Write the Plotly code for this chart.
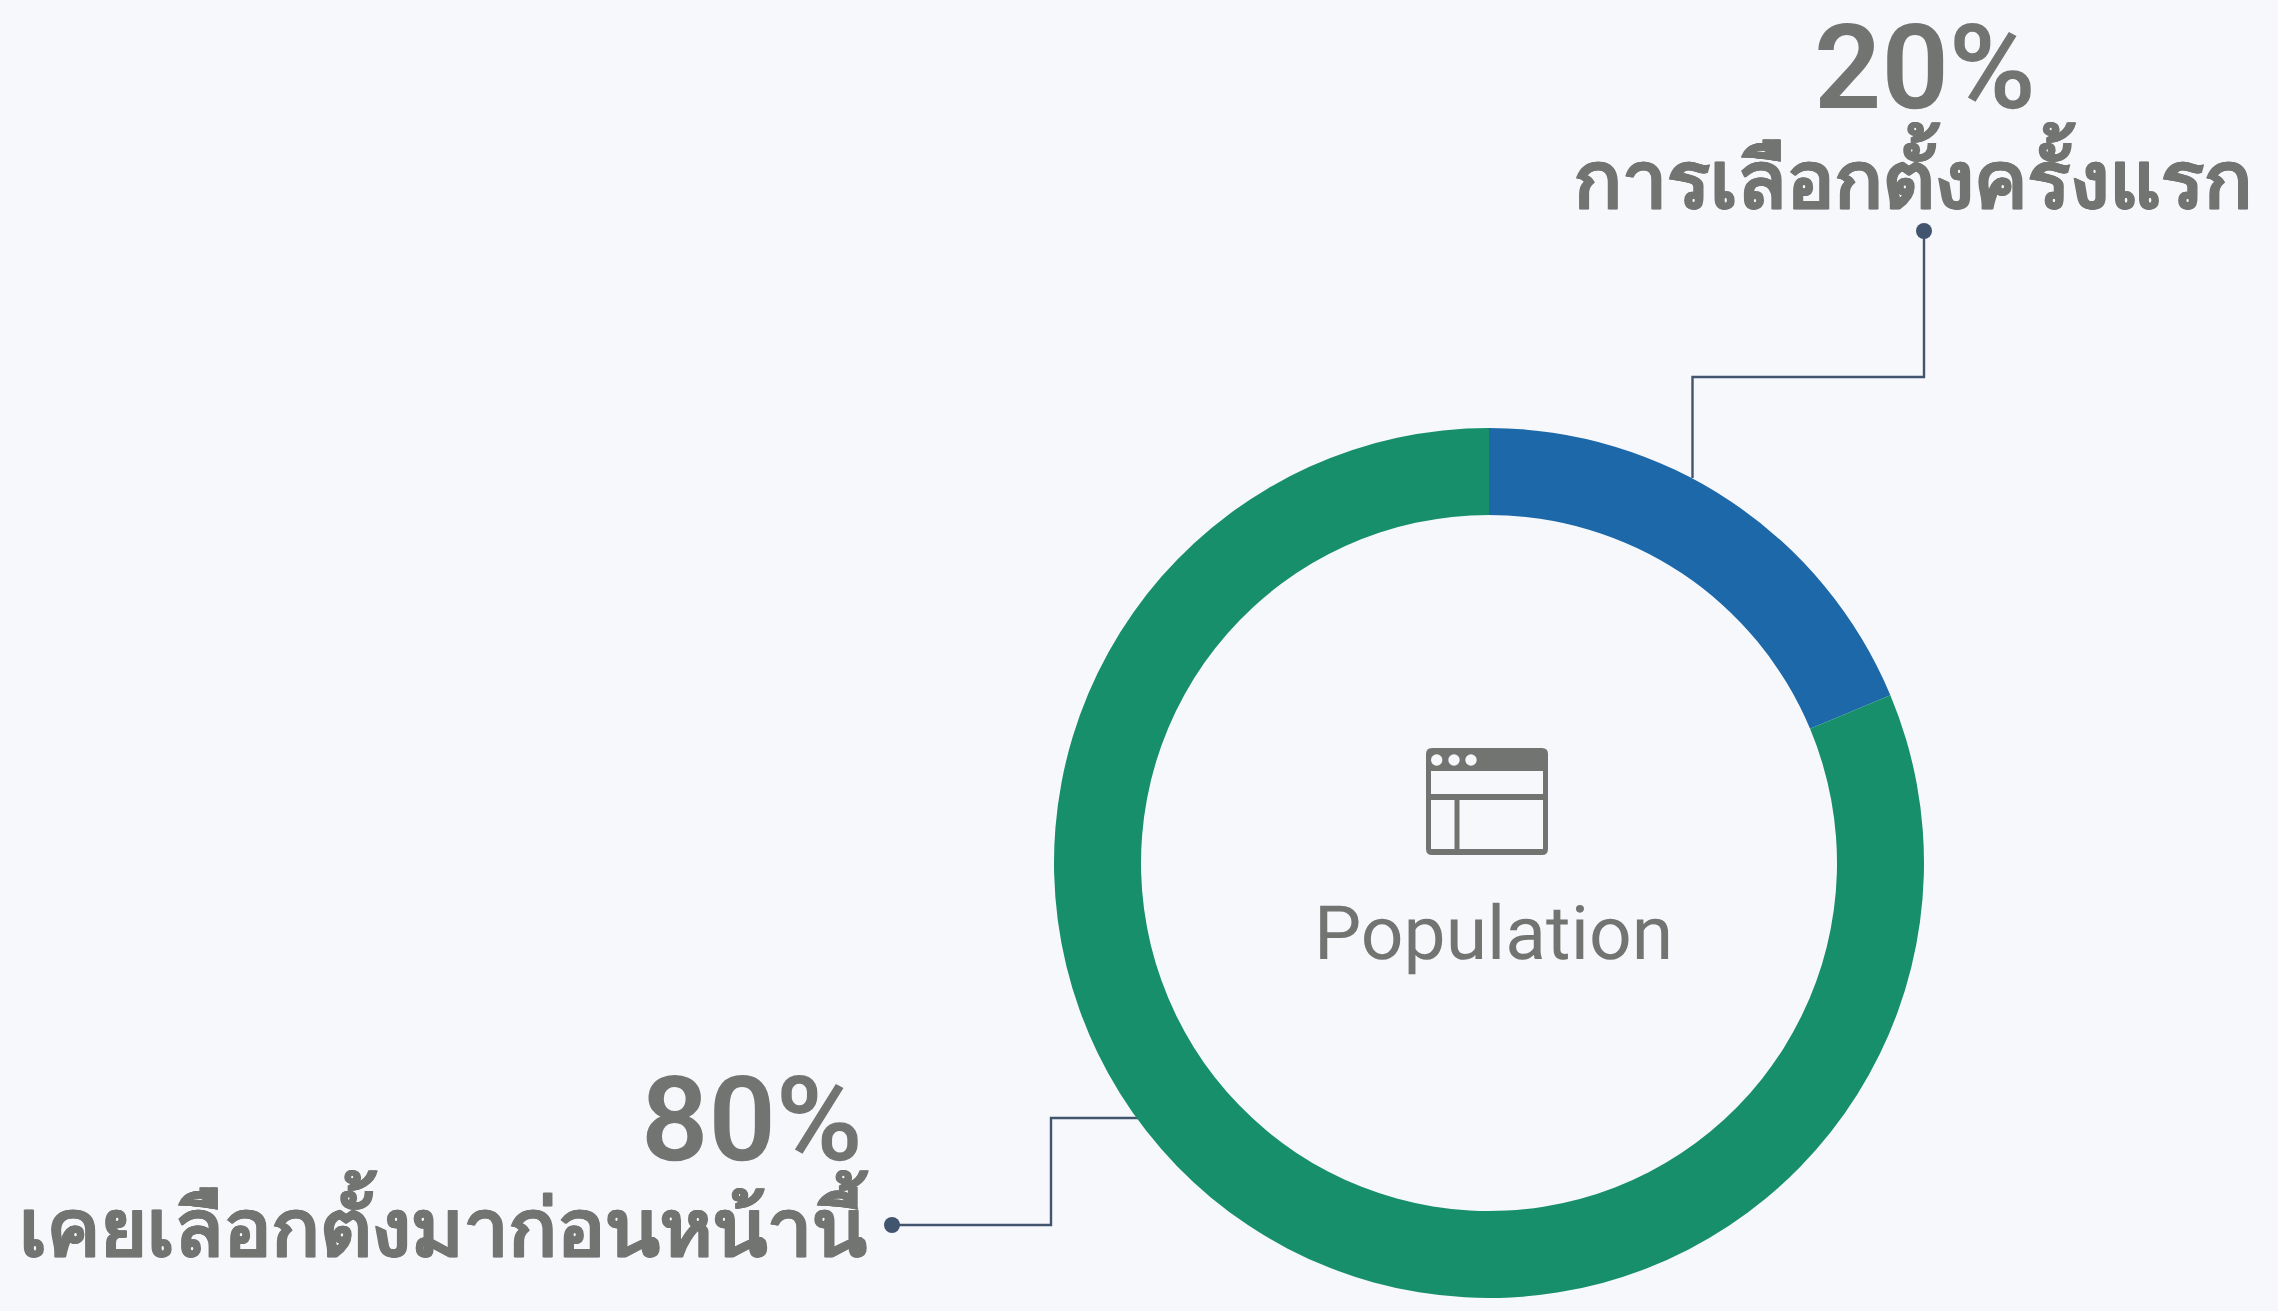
import plotly.graph_objects as go

categories = ["การเลือกตั้งครั้งแรก", "เคยเลือกตั้งมาก่อนหน้านี้"]
slice_values = [18.7, 81.3]
value_labels = ["20%", "80%"]
center_label = "Population"

W, H = 2278, 1311
BG = "#f6f8fc"
GREY = "#727471"
LINE = "#42556f"
COLORS = ["#1c68a8", "#178f6b"]
CX, CY, R = 1489, 863, 435

fig = go.Figure()
fig.add_trace(go.Pie(
    labels=categories, values=slice_values, sort=False, direction="clockwise", rotation=0,
    hole=0.8, textinfo="none", showlegend=False,
    marker=dict(colors=COLORS, line=dict(width=0)),
    domain=dict(x=[(CX - R) / W, (CX + R) / W], y=[(H - CY - R) / H, (H - CY + R) / H]),
))

leaders = [
    ([1924, 1924, 1692.5, 1692.5], [231, 377, 377, 478]),
    ([892, 1051, 1051, 1139], [1225, 1225, 1118, 1118]),
]
for xs, ys in leaders:
    fig.add_trace(go.Scatter(
        x=xs, y=ys, mode="lines", line=dict(color=LINE, width=2.4), hoverinfo="skip", showlegend=False))
    fig.add_trace(go.Scatter(
        x=xs[:1], y=ys[:1], mode="markers", marker=dict(color=LINE, size=16), hoverinfo="skip", showlegend=False))


def pix_text(x, y, text, size, weight, shadow=None):
    font = dict(family="Roboto, 'Noto Sans', sans-serif", size=size, color=GREY, weight=weight)
    if shadow:
        font["shadow"] = shadow
    fig.add_annotation(
        x=x, y=y, xref="x", yref="y", text=text, showarrow=False, xanchor="center", yanchor="middle", font=font)


THICK = "0.7px 0 0 #727471, -0.7px 0 0 #727471"
pix_text(1925, 68, value_labels[0], 118, 600)
pix_text(1913, 175, categories[0], 80, 700, THICK)
pix_text(752, 1120, value_labels[1], 118, 600)
pix_text(444, 1223, categories[1], 80, 700, THICK)
pix_text(1493, 933, center_label, 75, 400)

# table icon
r = 6
x0, x1, y0, y1 = 1426, 1548, 748, 855
outline = (
    f"M{x0 + r},{y0} L{x1 - r},{y0} Q{x1},{y0} {x1},{y0 + r} L{x1},{y1 - r} Q{x1},{y1} {x1 - r},{y1} "
    f"L{x0 + r},{y1} Q{x0},{y1} {x0},{y1 - r} L{x0},{y0 + r} Q{x0},{y0} {x0 + r},{y0} Z"
)
shapes = [
    dict(type="path", path=outline, fillcolor=GREY),
    dict(type="rect", x0=1431, x1=1543, y0=771, y1=794, fillcolor=BG),
    dict(type="rect", x0=1431, x1=1454.5, y0=800, y1=849, fillcolor=BG),
    dict(type="rect", x0=1459.5, x1=1543, y0=800, y1=849, fillcolor=BG),
]
for cx in (1436.7, 1454, 1471):
    shapes.append(dict(type="circle", x0=cx - 5.7, x1=cx + 5.7, y0=754.3, y1=765.7, fillcolor=BG))
for s in shapes:
    s.update(xref="x", yref="y", line=dict(width=0), layer="above")

fig.update_layout(
    width=W, height=H, margin=dict(l=0, r=0, t=0, b=0),
    paper_bgcolor=BG, plot_bgcolor="rgba(0,0,0,0)", shapes=shapes,
    xaxis=dict(range=[0, W], visible=False, fixedrange=True),
    yaxis=dict(range=[H, 0], visible=False, fixedrange=True),
)
fig.write_html(
    "out.html",
    config=dict(displayModeBar=False, responsive=False),
    post_script=(
        "document.body.style.margin='0';document.body.style.background='#f6f8fc';"
        "document.documentElement.style.overflow='hidden';"
        "var st=document.createElement('style');"
        "st.textContent='svg text{text-rendering:geometricPrecision !important;}';"
        "document.head.appendChild(st);"
    ),
)
